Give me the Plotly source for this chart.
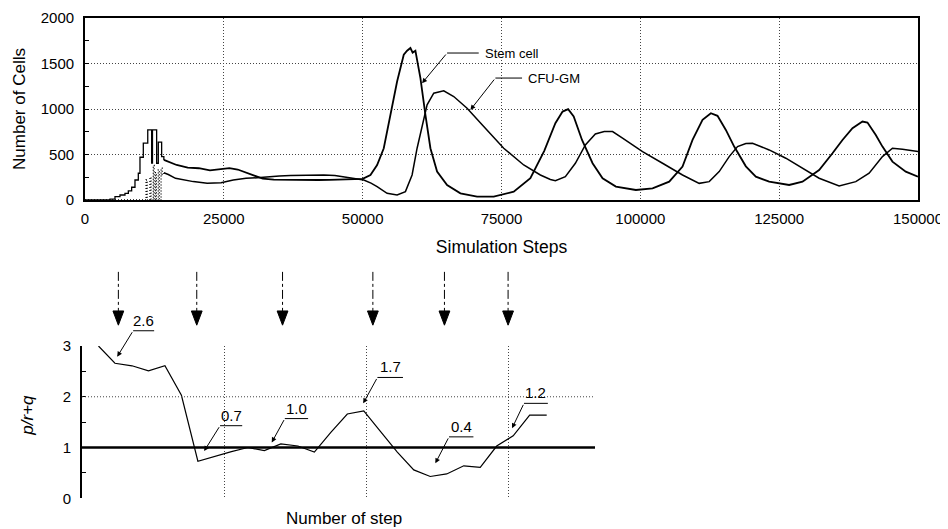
import plotly.graph_objects as go

# ---------------- Top panel data (Simulation Steps vs Number of Cells) ----------------
stem_early_x = [0, 3000, 4500, 5400, 6300, 7200, 7800, 8400, 9000, 9600, 9900, 10500,
                11300, 12000, 12150, 12900, 13200, 13800, 14200]
stem_early_y = [0, 0, 10, 37, 55, 73, 100, 140, 220, 294, 470, 624,
                770, 405, 770, 404, 635, 477, 440]

stem_x = [14200, 15000, 16500, 18500, 20500, 22500, 24500, 26000, 27500, 29000, 30500,
          32000, 34000, 36000, 38000, 40000, 42000, 44000, 46000, 48000, 50000, 51400,
          52600, 53800, 55000, 56200, 57400, 58000, 58600, 59000, 59500, 60400, 61300,
          62200, 63400, 65200, 67600, 70600, 73600, 77200, 80200, 82700, 84700, 86000,
          87000, 88000, 89500, 91400, 93200, 95600, 99200, 102200, 105200, 107600,
          109400, 111200, 112700, 113900, 115400, 116900, 119000, 120800, 123200,
          126800, 129200, 132200, 134600, 136400, 138200, 140000, 140900, 142400,
          143600, 145400, 147800, 150000]
stem_y = [440, 420, 385, 355, 349, 325, 340, 350, 335, 300, 270,
          235, 225, 222, 218, 215, 220, 222, 225, 228, 232, 275,
          385, 569, 936, 1302, 1596, 1640, 1670, 1620, 1640, 1340, 936,
          569, 312, 165, 73, 37, 37, 92, 239, 540, 844, 972,
          998, 917, 660, 404, 239, 147, 110, 128, 202, 367,
          660, 881, 954, 925, 770, 587, 370, 257, 202,
          165, 202, 330, 514, 660, 789, 862, 851, 715,
          587, 422, 312, 257]

cfu_early_x = [0, 10800, 11000, 11200, 11700, 11900, 12300, 12450, 12700, 12850,
               13200, 13400, 13700, 13900, 14200]
cfu_early_y = [0, 0, 220, 0, 250, 0, 380, 0, 300, 0, 330, 0, 350, 280, 300]

cfu_x = [14200, 15000, 16300, 18000, 19500, 22000, 24500, 26700, 29000, 31000, 33000,
         35000, 37000, 39000, 41000, 43000, 45000, 47000, 48500, 50200, 51500, 52600,
         54400, 56200, 57700, 58900, 59800, 60700, 61600, 62800, 64600, 66400, 68800,
         71800, 75400, 79000, 82000, 83800, 84700, 86500, 88300, 90100, 91900, 93500,
         95000, 96800, 100400, 104000, 107600, 110600, 112400, 114200, 116000, 117500,
         119000, 120200, 123200, 126200, 129200, 132200, 135800, 138800, 141200,
         143600, 145400, 147200, 150000]
cfu_y = [300, 280, 238, 215, 202, 185, 190, 220, 238, 245, 258,
         264, 268, 272, 270, 275, 268, 250, 235, 220, 185, 147,
         73, 55, 92, 275, 569, 825, 1046, 1174, 1200, 1137, 1009,
         807, 569, 385, 275, 225, 213, 257, 404, 605, 726, 752,
         752, 679, 532, 404, 275, 183, 202, 312, 477, 587,
         620, 624, 550, 459, 349, 239, 154, 202, 294,
         477, 569, 558, 532]

# ---------------- Bottom panel data (p/r+q vs Number of step) ----------------
ratio_x = [2900, 5800, 8800, 11700, 14600, 17500, 20400, 23400, 26300, 29200, 32100,
           35000, 38000, 40900, 43800, 46700, 49600, 52600, 55500, 58400, 61300,
           64200, 67200, 70100, 73000, 75900, 78800, 81800]
ratio_y = [3.00, 2.66, 2.61, 2.51, 2.61, 2.03, 0.73, 0.83, 0.92, 1.00, 0.94,
           1.07, 1.03, 0.91, 1.30, 1.66, 1.72, 1.31, 0.91, 0.56, 0.43,
           0.48, 0.64, 0.61, 1.03, 1.23, 1.64, 1.64]

event_x = [6400, 20200, 35300, 51200, 63800, 75000]   # dash-dot arrows above bottom panel

label_text = ["2.6", "0.7", "1.0", "1.7", "0.4", "1.2"]
# callout geometry (layout): arrow tip, leader start, leader end
label_tip_x = [6200, 21500, 33400, 49500, 62200, 75700]
label_tip_y = [2.79, 0.93, 1.10, 1.87, 0.69, 1.38]
label_tail_x = [9000, 24300, 35700, 52000, 64600, 77800]
label_tail_y = [3.30, 1.43, 1.57, 2.38, 1.21, 1.87]
label_end_x = [12700, 28200, 39800, 56500, 68900, 82000]

FONT = "Arial, Liberation Sans, sans-serif"
BLACK = "black"
DOTS = "1px,2px"

# page body adds an 8px margin; figure is sized so that it fills the window
OFF = 8
W, H = 948 - OFF, 529 - OFF


def px(x):
    return (x - OFF) / W


def py(y):
    return 1 - (y - OFF) / H


fig = go.Figure()

# top traces
fig.add_trace(go.Scatter(x=stem_early_x, y=stem_early_y, mode="lines", line_shape="hv",
                         line=dict(color=BLACK, width=1.3), showlegend=False, hoverinfo="skip"))
fig.add_trace(go.Scatter(x=cfu_early_x, y=cfu_early_y, mode="lines", line_shape="hv",
                         line=dict(color=BLACK, width=1.3, dash=DOTS), showlegend=False,
                         hoverinfo="skip"))
fig.add_trace(go.Scatter(x=stem_x, y=stem_y, mode="lines", name="Stem cell",
                         line=dict(color=BLACK, width=1.8), showlegend=False))
fig.add_trace(go.Scatter(x=cfu_x, y=cfu_y, mode="lines", name="CFU-GM",
                         line=dict(color=BLACK, width=1.5), showlegend=False))

# bottom data line
fig.add_trace(go.Scatter(x=ratio_x, y=ratio_y, mode="lines", xaxis="x2", yaxis="y2",
                         line=dict(color=BLACK, width=1.2), showlegend=False))

# dash-dot event arrows (overlay subplot x3/y3 sharing bottom scale)
for ex in event_x:
    fig.add_trace(go.Scatter(x=[ex, ex], y=[4.46, 3.69], mode="lines", xaxis="x3", yaxis="y3",
                             line=dict(color=BLACK, width=1, dash="dashdot"),
                             showlegend=False, hoverinfo="skip"))

shapes = []
for ex in event_x:
    shapes.append(dict(type="path", xref="x3", yref="y3",
                       path=f"M {ex-950},3.69 L {ex+950},3.69 L {ex},3.41 Z",
                       fillcolor=BLACK, line=dict(color=BLACK, width=1)))

# thick reference line at 1 and dotted line at 2
shapes.append(dict(type="line", xref="x2", yref="y2", x0=0, x1=90300, y0=2, y1=2,
                   line=dict(color="#444", width=1, dash=DOTS)))
shapes.append(dict(type="line", xref="x2", yref="y2", x0=0, x1=90300, y0=1, y1=1,
                   line=dict(color=BLACK, width=2.5)))

annotations = []
# bottom callouts
for t, tx, ty, ax_, ay_, ex_ in zip(label_text, label_tip_x, label_tip_y,
                                    label_tail_x, label_tail_y, label_end_x):
    annotations.append(dict(x=tx, y=ty, ax=ax_, ay=ay_, xref="x3", yref="y3",
                            axref="x3", ayref="y3", text="", showarrow=True,
                            arrowhead=2, arrowsize=1, arrowwidth=1, arrowcolor=BLACK))
    shapes.append(dict(type="line", xref="x3", yref="y3", x0=ax_, x1=ex_, y0=ay_, y1=ay_,
                       line=dict(color=BLACK, width=1)))
    annotations.append(dict(x=(ax_ + ex_) / 2, y=ay_, xref="x3", yref="y3", text=t,
                            showarrow=False, yanchor="bottom", xanchor="center",
                            font=dict(family=FONT, size=15, color=BLACK)))

# top callouts
top_labels = ["Stem cell", "CFU-GM"]
top_tip = [(60700, 1284), (69400, 990)]
top_tail = [(65200, 1615), (73900, 1340)]
top_end = [70900, 78700]
for t, (tx, ty), (ax_, ay_), ex_ in zip(top_labels, top_tip, top_tail, top_end):
    annotations.append(dict(x=tx, y=ty, ax=ax_, ay=ay_, xref="x", yref="y", axref="x",
                            ayref="y", text="", showarrow=True, arrowhead=2, arrowsize=1,
                            arrowwidth=1, arrowcolor=BLACK))
    shapes.append(dict(type="line", xref="x", yref="y", x0=ax_, x1=ex_, y0=ay_, y1=ay_,
                       line=dict(color=BLACK, width=1)))
    annotations.append(dict(x=ex_ + 700, y=ay_, xref="x", yref="y", text=t, showarrow=False,
                            xanchor="left", yanchor="middle",
                            font=dict(family=FONT, size=13, color=BLACK)))

# bottom titles
annotations.append(dict(x=px(343.5), y=py(518), xref="paper", yref="paper",
                        text="Number of step", showarrow=False, xanchor="center",
                        yanchor="middle", font=dict(family=FONT, size=17, color=BLACK)))
annotations.append(dict(x=px(26.7), y=py(415), xref="paper", yref="paper",
                        text="<i>p/r+q</i>", showarrow=False, textangle=-90,
                        xanchor="center", yanchor="middle",
                        font=dict(family=FONT, size=17, color=BLACK)))

grid = dict(showgrid=True, gridcolor="#444", gridwidth=1, griddash=DOTS)

fig.update_layout(
    width=W, height=H, autosize=False,
    margin=dict(l=0, r=0, t=0, b=0, pad=0, autoexpand=False),
    paper_bgcolor="white", plot_bgcolor="rgba(0,0,0,0)",
    font=dict(family=FONT, size=15, color=BLACK),
    xaxis=dict(domain=[px(85), px(918)], range=[0, 150000], tick0=0, dtick=25000,
               tickformat="d", showline=True, mirror=True, linecolor=BLACK, linewidth=1.8,
               ticks="", zeroline=False, tickfont=dict(size=15), ticklabelstandoff=4,
               title=dict(text="Simulation Steps", font=dict(size=17.5), standoff=15),
               anchor="y", **grid),
    yaxis=dict(domain=[py(200), py(18)], range=[0, 2000], tick0=0, dtick=500,
               tickformat="d", showline=True, mirror=True, linecolor=BLACK, linewidth=1.8,
               ticks="inside", ticklen=4, tickcolor=BLACK, zeroline=False,
               minor=dict(dtick=250, ticks="inside", ticklen=4, tickcolor=BLACK, showgrid=False),
               tickfont=dict(size=15), ticklabelstandoff=6,
               title=dict(text="Number of Cells", font=dict(size=17), standoff=11),
               anchor="x", **grid),
    xaxis2=dict(domain=[px(82), px(595)], range=[0, 90300], tick0=0, dtick=25000,
                showticklabels=False, anchor="y2", showline=False, zeroline=False,
                ticks="", **grid),
    yaxis2=dict(domain=[py(498.3), py(346)], range=[0, 3], tickvals=[0, 1, 2, 3],
                anchor="x2", showline=True, linecolor=BLACK, linewidth=2, zeroline=False,
                showgrid=False, ticks="inside", ticklen=4, tickcolor=BLACK,
                minor=dict(dtick=0.5, ticks="inside", ticklen=4, tickcolor=BLACK),
                tickfont=dict(size=15), ticklabelstandoff=6),
    xaxis3=dict(domain=[px(82), px(595)], range=[0, 90300], visible=False, anchor="y3"),
    yaxis3=dict(domain=[py(498.3), py(498.3 - 4.6 * 50.77)], range=[0, 4.6],
                visible=False, anchor="x3"),
    shapes=shapes, annotations=annotations,
)

fig.write_html("out.html")
